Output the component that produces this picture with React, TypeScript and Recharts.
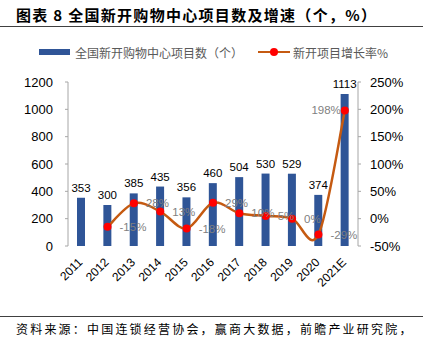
import { Bar, ComposedChart, LabelList, Line, XAxis, YAxis } from 'recharts';

const years = ['2011', '2012', '2013', '2014', '2015', '2016', '2017', '2018', '2019', '2020', '2021E'];
const projects = [353, 300, 385, 435, 356, 460, 504, 530, 529, 374, 1113];
const growth: (number | null)[] = [null, -15, 28, 13, -18, 29, 10, 5, 0, -29, 198];
const growthLabels = ['', '-15%', '28%', '13%', '-18%', '29%', '10%', '5%', '0%', '-29%', '198%'];
const leftTicks = [0, 200, 400, 600, 800, 1000, 1200];
const rightTicks = [-50, 0, 50, 100, 150, 200, 250];
const boundaryTicks = [0, 1, 2, 3, 4, 5, 6, 7, 8, 9, 10, 11];

const data = years.map((year, i) => ({
  year,
  projects: projects[i],
  growth: growth[i],
  growthLabel: growthLabels[i],
  idx: i + 0.5,
}));

const FONT = '"Liberation Sans", Arial, sans-serif';
const CJK = '"Noto Sans CJK SC", sans-serif';
const BAR = '#2F5597';
const LINE = '#C55A11';
const DOT = '#FF0000';
const AXIS = '#A6A6A6';

// Excel-like smoothed line (Catmull-Rom through the points)
function smoothCurve(context: any) {
  let pts: [number, number][] = [];
  return {
    areaStart() {},
    areaEnd() {},
    lineStart() {
      pts = [];
    },
    point(x: number, y: number) {
      pts.push([+x, +y]);
    },
    lineEnd() {
      if (!pts.length) return;
      context.moveTo(pts[0][0], pts[0][1]);
      for (let i = 0; i < pts.length - 1; i++) {
        const p0 = pts[i - 1] || pts[i];
        const p1 = pts[i];
        const p2 = pts[i + 1];
        const p3 = pts[i + 2] || p2;
        context.bezierCurveTo(
          p1[0] + (p2[0] - p0[0]) / 6,
          p1[1] + (p2[1] - p0[1]) / 6,
          p2[0] - (p3[0] - p1[0]) / 6,
          p2[1] - (p3[1] - p1[1]) / 6,
          p2[0],
          p2[1],
        );
      }
    },
  };
}

function YearTick({ x, y, payload }: any) {
  const ax = x + 2;
  const ay = y + 17;
  return (
    <text
      x={ax}
      y={ay}
      transform={`rotate(-45, ${ax}, ${ay})`}
      textAnchor="end"
      fontSize={12}
      fontFamily={FONT}
      fill="#000"
    >
      {payload.value}
    </text>
  );
}

function GrowthLabel({ x, y, value, index }: any) {
  if (!value) return null;
  const last = index === growthLabels.length - 1;
  return (
    <text
      x={last ? x - 4 : x + 12}
      y={y}
      dy={4}
      textAnchor={last ? 'end' : 'start'}
      fontSize={11.5}
      fontFamily={FONT}
      fill="#7F7F7F"
    >
      {value}
    </text>
  );
}

export default function App() {
  return (
    <div style={{ position: 'absolute', left: 0, top: 0, width: 423, height: 339, background: '#fff' }}>
      <div
        style={{
          position: 'absolute',
          left: 16,
          top: 4,
          fontFamily: CJK,
          fontWeight: 700,
          fontSize: 15,
          letterSpacing: 1.3,
          color: '#000',
          whiteSpace: 'nowrap',
        }}
      >
        图表 8 全国新开购物中心项目数及增速（个，%）
      </div>
      <div style={{ position: 'absolute', left: 0, top: 26, width: 423, height: 1, background: '#404040' }} />

      {/* legend */}
      <div style={{ position: 'absolute', left: 39, top: 49, width: 31, height: 6, background: BAR }} />
      <div
        style={{
          position: 'absolute',
          left: 75,
          top: 44,
          fontFamily: CJK,
          fontSize: 12,
          color: '#595959',
          whiteSpace: 'nowrap',
        }}
      >
        全国新开购物中心项目数（个）
      </div>
      <div style={{ position: 'absolute', left: 258, top: 51, width: 32, height: 2, background: LINE }} />
      <div
        style={{
          position: 'absolute',
          left: 270,
          top: 48,
          width: 8,
          height: 8,
          borderRadius: 4,
          background: DOT,
        }}
      />
      <div
        style={{
          position: 'absolute',
          left: 293,
          top: 44,
          fontFamily: CJK,
          fontSize: 12,
          color: '#595959',
          whiteSpace: 'nowrap',
        }}
      >
        新开项目增长率%
      </div>

      <div style={{ position: 'absolute', left: 0, top: 0 }}>
        <ComposedChart width={423} height={339} data={data} margin={{ top: 82, right: 0, left: 0, bottom: 0 }}>
          <XAxis
            xAxisId="grid"
            type="number"
            dataKey="idx"
            domain={[0, 11]}
            ticks={boundaryTicks}
            height={0}
            tick={<g />}
            tickSize={3}
            stroke={AXIS}
            allowDataOverflow
          />
          <XAxis
            dataKey="year"
            height={93}
            axisLine={false}
            tickLine={false}
            tickSize={0}
            tickMargin={0}
            tick={<YearTick />}
            interval={0}
          />
          <YAxis
            yAxisId="left"
            width={68}
            domain={[0, 1200]}
            ticks={leftTicks}
            tickSize={3}
            tickMargin={12}
            stroke={AXIS}
            tick={{ fill: '#000', fontSize: 13, fontFamily: FONT }}
          />
          <YAxis
            yAxisId="right"
            orientation="right"
            width={65}
            domain={[-50, 250]}
            ticks={rightTicks}
            tickFormatter={(v: number) => `${v}%`}
            tickSize={3}
            tickMargin={9}
            stroke={AXIS}
            tick={{ fill: '#000', fontSize: 13, fontFamily: FONT }}
          />
          <Bar yAxisId="left" dataKey="projects" fill={BAR} barSize={8} isAnimationActive={false}>
            <LabelList dataKey="projects" position="top" offset={6} fill="#000" fontSize={11.5} fontFamily={FONT} />
          </Bar>
          <Line
            yAxisId="right"
            dataKey="growth"
            type={smoothCurve as any}
            stroke={LINE}
            strokeWidth={2.5}
            dot={{ r: 4, fill: DOT, stroke: DOT, strokeWidth: 0 }}
            isAnimationActive={false}
          >
            <LabelList dataKey="growthLabel" content={<GrowthLabel />} />
          </Line>
        </ComposedChart>
      </div>

      <div style={{ position: 'absolute', left: 0, top: 316, width: 423, height: 1, background: '#404040' }} />
      <div
        style={{
          position: 'absolute',
          left: 16,
          top: 320,
          fontFamily: CJK,
          fontSize: 12,
          letterSpacing: 2.2,
          color: '#000',
          whiteSpace: 'nowrap',
          lineHeight: '17px',
        }}
      >
        资料来源：中国连锁经营协会，赢商大数据，前瞻产业研究院，
      </div>
    </div>
  );
}
